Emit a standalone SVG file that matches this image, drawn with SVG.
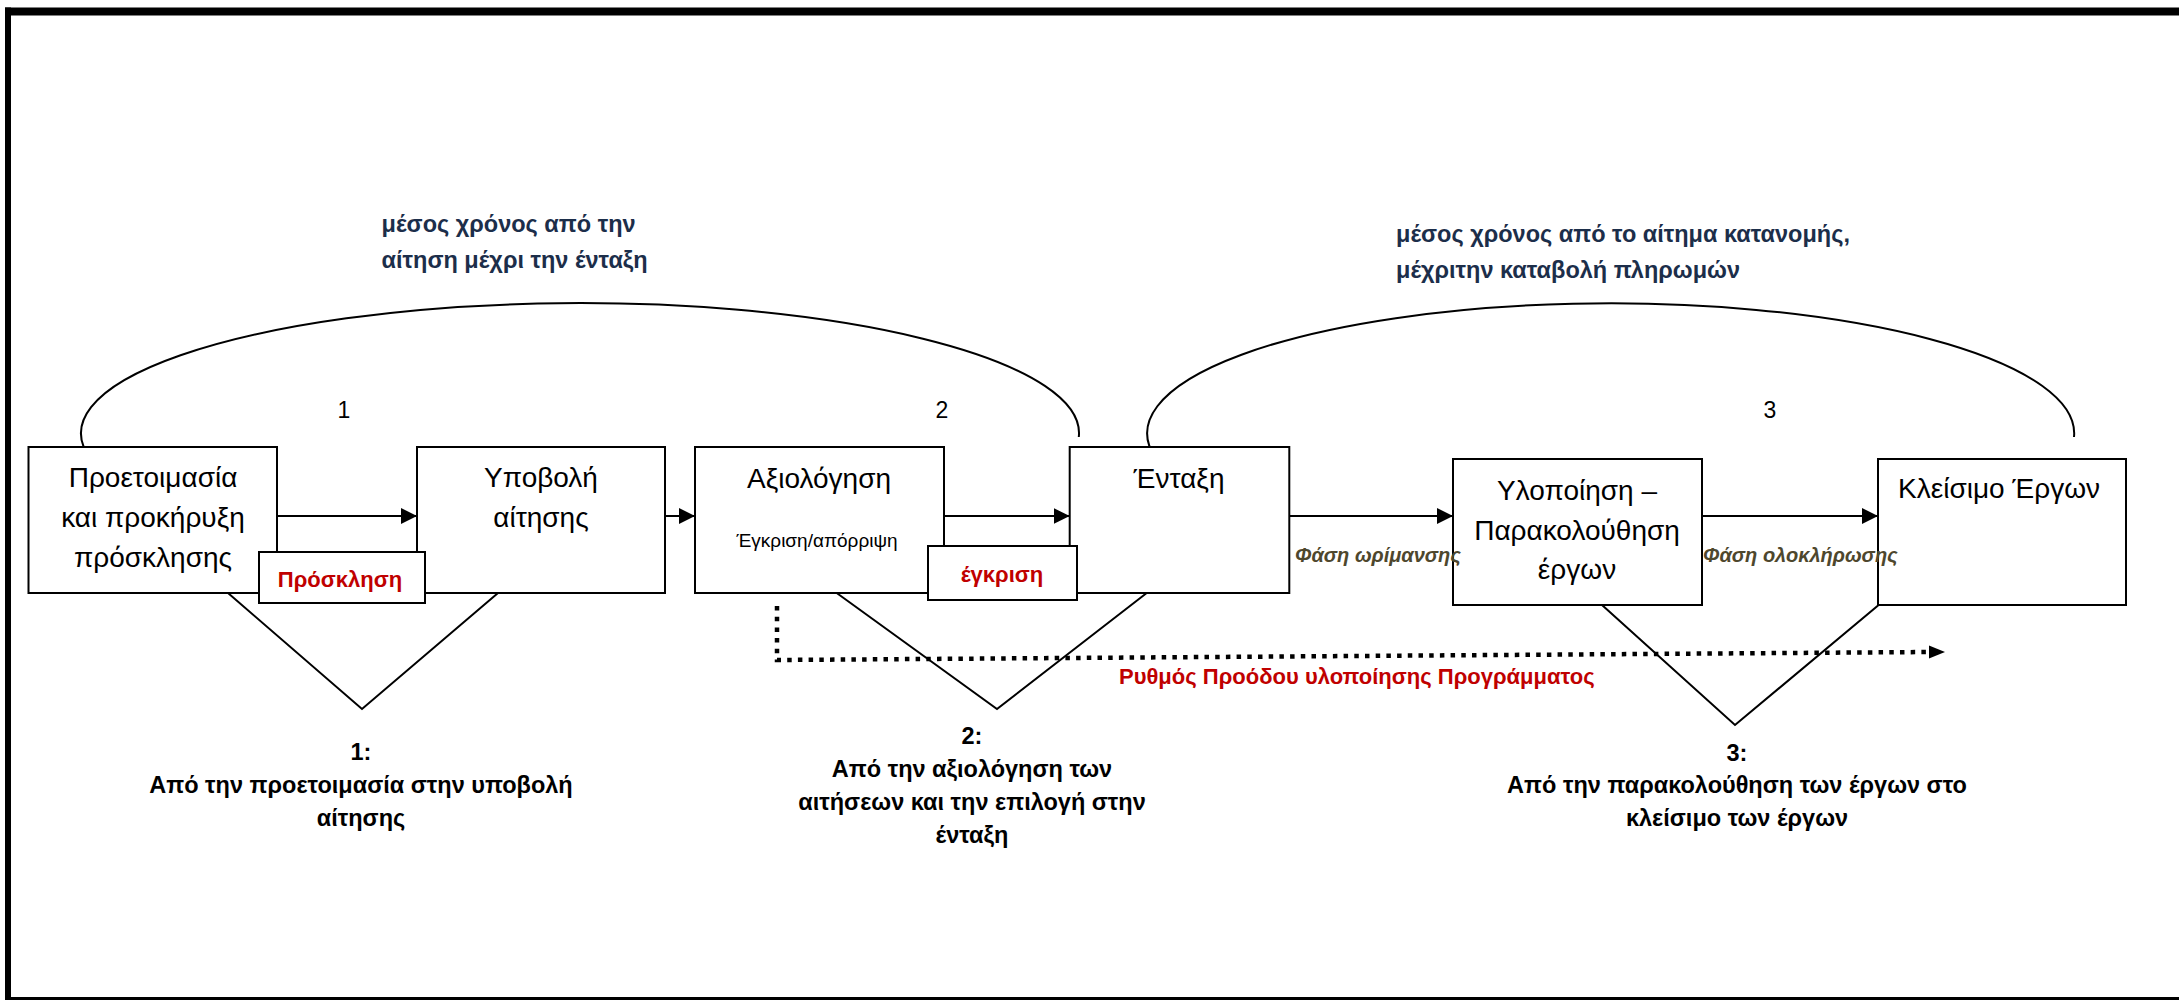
<svg xmlns="http://www.w3.org/2000/svg" width="2179" height="1000" viewBox="0 0 2179 1000">
<style>
  text { font-family: "Liberation Sans", "DejaVu Sans", sans-serif; }
  .box { fill: #fff; stroke: #000; stroke-width: 2; }
  .lbl { fill: #fff; stroke: #000; stroke-width: 2; }
  .t { font-size: 28px; fill: #000; text-anchor: middle; }
  .ts { font-size: 19px; fill: #000; text-anchor: middle; }
  .num { font-size: 23px; fill: #000; text-anchor: middle; }
  .red { font-size: 22px; font-weight: bold; fill: #C00000; text-anchor: middle; }
  .phase { font-size: 20px; font-weight: bold; font-style: italic; fill: #4E472D; }
  .title { font-size: 23.5px; font-weight: bold; fill: #1C2E4A; }
  .bot { font-size: 23.5px; font-weight: bold; fill: #000; text-anchor: middle; }
  .prog { font-size: 22px; font-weight: bold; fill: #C00000; }
  .arrow { fill: none; stroke: #000; stroke-width: 2; marker-end: url(#ah); }
  .tri { fill: none; stroke: #000; stroke-width: 2; }
  .arc { fill: none; stroke: #000; stroke-width: 2; }
  .dot { fill: none; stroke: #000; stroke-width: 4.5; stroke-dasharray: 4.5 6.2; }
</style>
<defs>
  <marker id="ah" markerUnits="userSpaceOnUse" markerWidth="16" markerHeight="16" refX="16" refY="8" orient="auto">
    <path d="M0,0 L16,8 L0,16 z" fill="#000"/>
  </marker>
</defs>
<rect x="0" y="0" width="2179" height="1000" fill="#fff"/>
<g id="frame" fill="#000">
  <rect x="5" y="7.5" width="2174" height="8"/>
  <rect x="5" y="7.5" width="6" height="992.5"/>
  <rect x="5" y="997" width="2174" height="3"/>
</g>

<g id="connectors">
  <path class="arc" d="M 1078.8 437 A 499 130 0 1 0 91 459"/>
  <path class="arc" d="M 2074 437 A 463.5 130 0 1 0 1155.6 458"/>
  <path class="arrow" d="M 277 516 L 417 516"/>
  <path class="arrow" d="M 665 516 L 695 516"/>
  <path class="arrow" d="M 944 516 L 1069.7 516"/>
  <path class="arrow" d="M 1289 516 L 1453 516"/>
  <path class="arrow" d="M 1702 516 L 1878 516"/>
  <polyline class="tri" points="228,593 362,709 498,593"/>
  <polyline class="tri" points="836.7,593 997,709 1146.7,593"/>
  <polyline class="tri" points="1602,605 1735,725 1893,593"/>
  <polyline class="dot" points="777,606 777,660 1930,652"/>
  <path d="M1929,645.5 L1945,652 L1929,658.5 z" fill="#000"/>
</g>

<g id="node-proetoimasia">
  <rect class="box" x="28.5" y="447" width="248.5" height="146"/>
  <text class="t" x="153" y="487">Προετοιμασία</text>
  <text class="t" x="153" y="527">και προκήρυξη</text>
  <text class="t" x="153" y="567">πρόσκλησης</text>
</g>
<g id="node-ypovoli">
  <rect class="box" x="417" y="447" width="248" height="146"/>
  <text class="t" x="541" y="487">Υποβολή</text>
  <text class="t" x="541" y="527">αίτησης</text>
</g>
<g id="node-prosklisi">
  <rect class="lbl" x="259" y="552" width="166" height="51"/>
  <text class="red" x="340" y="587">Πρόσκληση</text>
</g>
<g id="node-axiologisi">
  <rect class="box" x="695" y="447" width="249" height="146"/>
  <text class="t" x="819" y="488">Αξιολόγηση</text>
  <text class="ts" x="817" y="547">Έγκριση/απόρριψη</text>
</g>
<g id="node-entaxi">
  <rect class="box" x="1069.7" y="447" width="219.6" height="146"/>
  <text class="t" x="1179" y="488">Ένταξη</text>
</g>
<g id="node-egkrisi">
  <rect class="lbl" x="928" y="546" width="149" height="54"/>
  <text class="red" x="1002" y="582">έγκριση</text>
</g>
<g id="node-ylopoiisi">
  <rect class="box" x="1453" y="459" width="249" height="146"/>
  <text class="t" x="1577" y="500">Υλοποίηση –</text>
  <text class="t" x="1577" y="540">Παρακολούθηση</text>
  <text class="t" x="1577" y="579">έργων</text>
</g>
<g id="node-kleisimo">
  <rect class="box" x="1878" y="459" width="248" height="146"/>
  <text class="t" x="1898" y="498" style="text-anchor:start">Κλείσιμο Έργων</text>
</g>

<g id="labels">
  <text class="num" x="344" y="418">1</text>
  <text class="num" x="942" y="418">2</text>
  <text class="num" x="1770" y="418">3</text>
  <text class="title" x="381.6" y="231.5">μέσος χρόνος από την</text>
  <text class="title" x="381.6" y="268">αίτηση μέχρι την ένταξη</text>
  <text class="title" x="1396" y="241.5">μέσος χρόνος από το αίτημα κατανομής,</text>
  <text class="title" x="1396" y="278">μέχριτην καταβολή πληρωμών</text>
  <text class="phase" x="1295" y="562">Φάση ωρίμανσης</text>
  <text class="phase" x="1703" y="562">Φάση ολοκλήρωσης</text>
  <text class="prog" x="1119" y="684">Ρυθμός Προόδου υλοποίησης Προγράμματος</text>
  <text class="bot" x="361" y="760">1:</text>
  <text class="bot" x="361" y="793">Από την προετοιμασία στην υποβολή</text>
  <text class="bot" x="361" y="826">αίτησης</text>
  <text class="bot" x="972" y="744">2:</text>
  <text class="bot" x="972" y="777">Από την αξιολόγηση των</text>
  <text class="bot" x="972" y="810">αιτήσεων και την επιλογή στην</text>
  <text class="bot" x="972" y="843">ένταξη</text>
  <text class="bot" x="1737" y="761">3:</text>
  <text class="bot" x="1737" y="793">Από την παρακολούθηση των έργων στο</text>
  <text class="bot" x="1737" y="826">κλείσιμο των έργων</text>
</g>
</svg>
